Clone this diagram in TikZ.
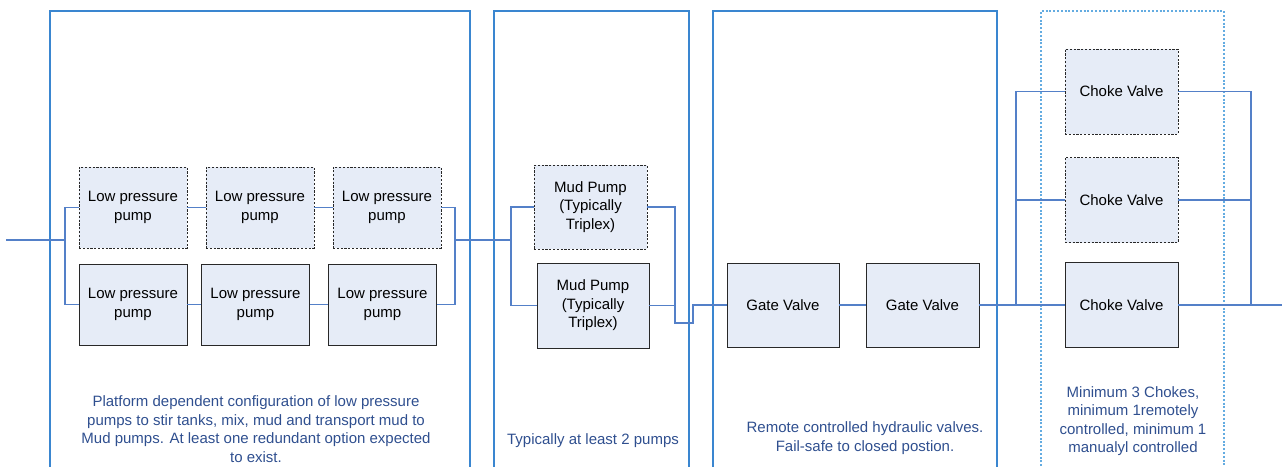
\documentclass[tikz,border=0pt]{standalone}
\usepackage{fontspec}
\setmainfont{Liberation Sans}
\definecolor{zoneblue}{RGB}{58,134,208}
\definecolor{zonelight}{RGB}{100,172,225}
\definecolor{pipeblue}{RGB}{84,128,200}
\definecolor{noteblue}{RGB}{47,79,143}
\definecolor{boxfill}{RGB}{230,236,247}
\definecolor{boxline}{RGB}{40,40,40}
\begin{document}
\begin{tikzpicture}[x=1pt, y=-1pt,
  font=\fontsize{15}{18.5}\selectfont,
  unit/.style={draw=boxline, line width=0.9pt, fill=boxfill, align=center, inner sep=0pt},
  spare/.style={unit, dash pattern=on 2.2pt off 1.6pt},
  lpbox/.style={minimum width=108, minimum height=81},
  vbox/.style={minimum width=113, minimum height=85},
  pipe/.style={draw=pipeblue, line width=1.2pt},
  zone/.style={draw=zoneblue, line width=1.1pt},
  zonedash/.style={draw=zonelight, line width=1.1pt, dash pattern=on 2pt off 1.8pt},
  note/.style={text=noteblue, align=center}]
\useasboundingbox (0,0) rectangle (1282,466);

\draw[zone] (50,470) |- (470,11) -- (470,470);
\draw[zone] (494,470) |- (689,11) -- (689,470);
\draw[zone] (713,470) |- (997,11) -- (997,470);
\draw[zonedash] (1041,470) |- (1224,11) -- (1224,470);

\node[spare, lpbox] (lpA1) at (133,207.5) {Low pressure\\pump};
\node[spare, lpbox] (lpA2) at (260,207.5) {Low pressure\\pump};
\node[spare, lpbox] (lpA3) at (387,207.5) {Low pressure\\pump};
\node[unit, lpbox] (lpB1) at (133,304.5) {Low pressure\\pump};
\node[unit, lpbox] (lpB2) at (255.5,304.5) {Low pressure\\pump};
\node[unit, lpbox] (lpB3) at (382.5,304.5) {Low pressure\\pump};

\node[spare, minimum width=113, minimum height=84] (mudA) at (590.5,207) {Mud Pump\\(Typically\\Triplex)};
\node[unit, minimum width=112, minimum height=85] (mudB) at (593,305.5) {Mud Pump\\(Typically\\Triplex)};

\node[unit, minimum width=112, minimum height=84] (gateA) at (783,305) {Gate Valve};
\node[unit, minimum width=113, minimum height=84] (gateB) at (922.5,305) {Gate Valve};

\node[spare, vbox] (chokeA) at (1121.5,91.5) {Choke Valve};
\node[spare, vbox] (chokeB) at (1121.5,200) {Choke Valve};
\node[unit, vbox] (chokeC) at (1121.5,305) {Choke Valve};

\coordinate (in) at (6,240);
\coordinate (lpL) at (65,240);
\coordinate (lpR) at (455,240);
\coordinate (mudL) at (511,240);
\coordinate (mudR) at (675,323);
\coordinate (jog) at (693,323);
\coordinate (chL) at (1016,305);
\coordinate (chR) at (1251,305);
\coordinate (out) at (1282,305);

\draw[pipe] (in) -- (lpL);
\draw[pipe] (lpA1.west) -| (lpL) |- (lpB1.west);
\draw[pipe] (lpA1.east) -- (lpA2.west);
\draw[pipe] (lpA2.east) -- (lpA3.west);
\draw[pipe] (lpB1.east) -- (lpB2.west);
\draw[pipe] (lpB2.east) -- (lpB3.west);
\draw[pipe] (lpA3.east) -| (lpR) |- (lpB3.east);
\draw[pipe] (lpR) -- (mudL);
\draw[pipe] (mudA.west) -| (mudL) |- (mudB.west);
\draw[pipe] (mudA.east) -| (mudR);
\draw[pipe] (mudB.east) -| (mudR) -- (jog) |- (gateA.west);
\draw[pipe] (gateA.east) -- (gateB.west);
\draw[pipe] (gateB.east) -- (chL) -- (chokeC.west);
\draw[pipe] (chokeA.west) -| (chL);
\draw[pipe] (chokeB.west) -- (chokeB.west -| chL);
\draw[pipe] (chokeA.east) -| (chR);
\draw[pipe] (chokeB.east) -- (chokeB.east -| chR);
\draw[pipe] (chokeC.east) -- (out);

\node[note] (noteLP) at (256,429) {Platform dependent configuration of low pressure\\pumps to stir tanks, mix, mud and transport mud to\\Mud pumps. At least one redundant option expected\\to exist.};
\node[note] (noteMud) at (593,441) {Typically at least 2 pumps};
\node[note] (noteGate) at (865,438) {Remote controlled hydraulic valves.\\Fail-safe to closed postion.};
\node[note] (noteChoke) at (1133,421) {Minimum 3 Chokes,\\minimum 1remotely\\controlled, minimum 1\\manualyl controlled};
\end{tikzpicture}
\end{document}
